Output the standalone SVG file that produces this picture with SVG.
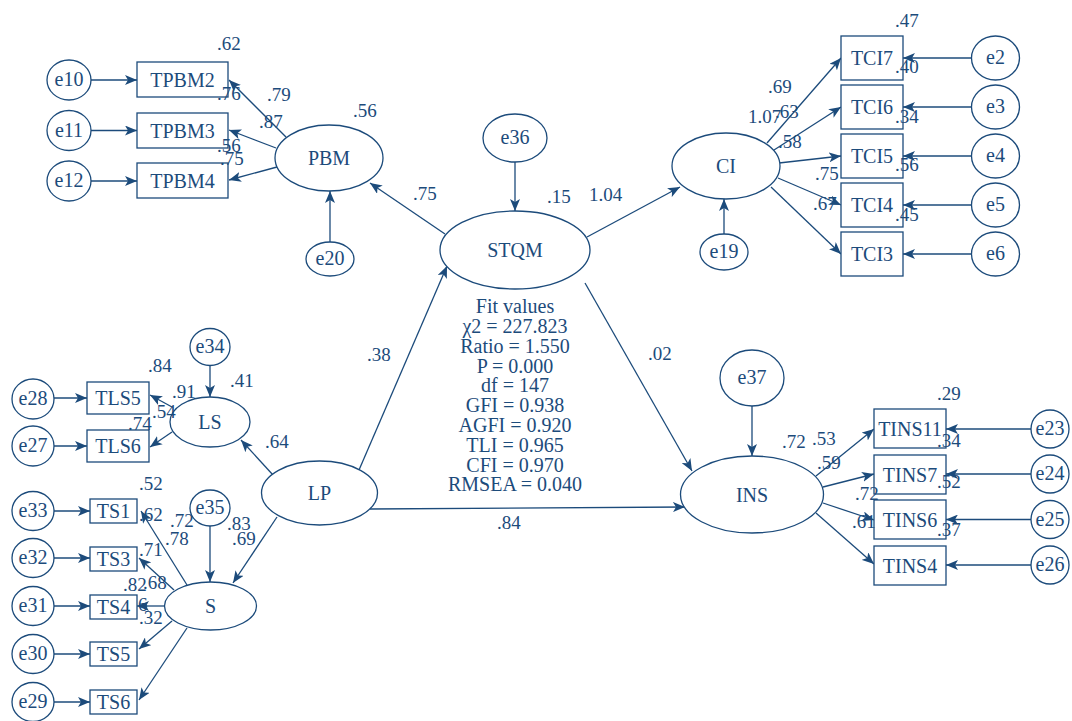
<svg xmlns="http://www.w3.org/2000/svg" width="1072" height="721" viewBox="0 0 1072 721">
<style>
.n{fill:#fff;stroke:#1c4b7b;stroke-width:1.3}
.c{stroke:#1c4b7b;stroke-width:1.3;fill:none;marker-end:url(#ah)}
text{font-family:"Liberation Serif","Times New Roman",serif;font-size:19px;fill:#1c4b7b}
.m{text-anchor:middle;font-size:20px}
</style>
<defs>
<marker id="ah" markerUnits="userSpaceOnUse" markerWidth="12" markerHeight="10" refX="12" refY="5" orient="auto">
<path d="M0,0 L12,5 L0,10 L3,5 Z" fill="#1c4b7b"/>
</marker>
</defs>
<rect width="1072" height="721" fill="#fff"/>
<g id="connectors">
<line class="c" x1="91" y1="80" x2="137" y2="80"/>
<line class="c" x1="91" y1="130.5" x2="137" y2="130.5"/>
<line class="c" x1="91" y1="181" x2="137" y2="181"/>
<line class="c" x1="286" y1="137" x2="229" y2="80"/>
<line class="c" x1="276" y1="148" x2="229" y2="130"/>
<line class="c" x1="277" y1="167" x2="229" y2="180"/>
<line class="c" x1="330" y1="242" x2="330" y2="191"/>
<line class="c" x1="445" y1="234" x2="370" y2="183"/>
<line class="c" x1="515" y1="162" x2="515" y2="211"/>
<line class="c" x1="587" y1="237" x2="680" y2="187"/>
<line class="c" x1="724" y1="234" x2="724" y2="199"/>
<line class="c" x1="767" y1="143" x2="841" y2="58"/>
<line class="c" x1="774" y1="150" x2="841" y2="107"/>
<line class="c" x1="779" y1="163" x2="841" y2="156"/>
<line class="c" x1="778" y1="178" x2="841" y2="205"/>
<line class="c" x1="771" y1="187" x2="841" y2="254"/>
<line class="c" x1="971.5" y1="58" x2="903" y2="58"/>
<line class="c" x1="971.5" y1="107" x2="903" y2="107"/>
<line class="c" x1="971.5" y1="156" x2="903" y2="156"/>
<line class="c" x1="971.5" y1="205" x2="903" y2="205"/>
<line class="c" x1="971.5" y1="254" x2="903" y2="254"/>
<line class="c" x1="359" y1="470" x2="447" y2="266"/>
<line class="c" x1="585" y1="283" x2="692" y2="471"/>
<line class="c" x1="370" y1="509" x2="685" y2="507"/>
<line class="c" x1="752" y1="406" x2="752" y2="456"/>
<line class="c" x1="816" y1="476" x2="874" y2="429"/>
<line class="c" x1="823" y1="487" x2="874" y2="474"/>
<line class="c" x1="823" y1="503" x2="874" y2="520"/>
<line class="c" x1="816" y1="513" x2="874" y2="564"/>
<line class="c" x1="1031" y1="429" x2="946" y2="429"/>
<line class="c" x1="1031" y1="474" x2="946" y2="474"/>
<line class="c" x1="1031" y1="519.5" x2="946" y2="519.5"/>
<line class="c" x1="1031" y1="565" x2="946" y2="565"/>
<line class="c" x1="210" y1="365.5" x2="210" y2="397"/>
<line class="c" x1="172" y1="407" x2="150" y2="395"/>
<line class="c" x1="172" y1="432" x2="150" y2="447"/>
<line class="c" x1="54" y1="398" x2="87" y2="398"/>
<line class="c" x1="54" y1="446" x2="87" y2="446"/>
<line class="c" x1="273" y1="475" x2="241" y2="440"/>
<line class="c" x1="277" y1="517" x2="233" y2="583"/>
<line class="c" x1="210" y1="526" x2="210" y2="582"/>
<line class="c" x1="187" y1="585" x2="141" y2="511"/>
<line class="c" x1="174" y1="590" x2="139" y2="558"/>
<line class="c" x1="164.5" y1="606" x2="137" y2="606"/>
<line class="c" x1="172" y1="621" x2="139" y2="649"/>
<line class="c" x1="187" y1="628" x2="139" y2="700"/>
<line class="c" x1="54" y1="511" x2="90" y2="511"/>
<line class="c" x1="54" y1="558" x2="90" y2="558"/>
<line class="c" x1="54" y1="606" x2="90" y2="606"/>
<line class="c" x1="54" y1="654" x2="90" y2="654"/>
<line class="c" x1="54" y1="702" x2="90" y2="702"/>
</g>
<g id="e10"><ellipse class="n" cx="69" cy="80" rx="22" ry="20"/><text class="m" x="69" y="86">e10</text></g>
<g id="e11"><ellipse class="n" cx="69" cy="130.5" rx="22" ry="20"/><text class="m" x="69" y="136.5">e11</text></g>
<g id="e12"><ellipse class="n" cx="69" cy="181" rx="22" ry="20"/><text class="m" x="69" y="187">e12</text></g>
<g id="TPBM2"><rect class="n" x="137" y="62" width="91" height="35"/><text class="m" x="182.5" y="86.5">TPBM2</text></g>
<g id="TPBM3"><rect class="n" x="137" y="113" width="91" height="35"/><text class="m" x="182.5" y="137.5">TPBM3</text></g>
<g id="TPBM4"><rect class="n" x="137" y="163" width="91" height="35"/><text class="m" x="182.5" y="187.5">TPBM4</text></g>
<g id="PBM"><ellipse class="n" cx="329" cy="158" rx="54" ry="33"/><text class="m" x="329" y="165">PBM</text></g>
<g id="e20"><ellipse class="n" cx="330" cy="259" rx="24" ry="17"/><text class="m" x="330" y="265">e20</text></g>
<g id="e36"><ellipse class="n" cx="515" cy="138" rx="32" ry="24"/><text class="m" x="515" y="144">e36</text></g>
<g id="STQM"><ellipse class="n" cx="515" cy="250" rx="75" ry="39"/><text class="m" x="515" y="257">STQM</text></g>
<g id="CI"><ellipse class="n" cx="726" cy="166" rx="54" ry="33"/><text class="m" x="726" y="173">CI</text></g>
<g id="e19"><ellipse class="n" cx="724" cy="252" rx="24" ry="18"/><text class="m" x="724" y="258">e19</text></g>
<g id="TCI7"><rect class="n" x="841" y="36" width="62" height="44"/><text class="m" x="872" y="64.5">TCI7</text></g>
<g id="TCI6"><rect class="n" x="841" y="85" width="62" height="44"/><text class="m" x="872" y="113.5">TCI6</text></g>
<g id="TCI5"><rect class="n" x="841" y="134" width="62" height="44"/><text class="m" x="872" y="162.5">TCI5</text></g>
<g id="TCI4"><rect class="n" x="841" y="183" width="62" height="44"/><text class="m" x="872" y="211.5">TCI4</text></g>
<g id="TCI3"><rect class="n" x="841" y="232" width="62" height="44"/><text class="m" x="872" y="260.5">TCI3</text></g>
<g id="e2"><ellipse class="n" cx="995.5" cy="58" rx="24" ry="22"/><text class="m" x="995.5" y="64">e2</text></g>
<g id="e3"><ellipse class="n" cx="995.5" cy="107" rx="24" ry="22"/><text class="m" x="995.5" y="113">e3</text></g>
<g id="e4"><ellipse class="n" cx="995.5" cy="156" rx="24" ry="22"/><text class="m" x="995.5" y="162">e4</text></g>
<g id="e5"><ellipse class="n" cx="995.5" cy="205" rx="24" ry="22"/><text class="m" x="995.5" y="211">e5</text></g>
<g id="e6"><ellipse class="n" cx="995.5" cy="254" rx="24" ry="22"/><text class="m" x="995.5" y="260">e6</text></g>
<g id="e34"><ellipse class="n" cx="210" cy="347" rx="20" ry="18.5"/><text class="m" x="210" y="353">e34</text></g>
<g id="LS"><ellipse class="n" cx="210" cy="422" rx="40" ry="25"/><text class="m" x="210" y="429">LS</text></g>
<g id="TLS5"><rect class="n" x="87" y="382" width="62" height="32"/><text class="m" x="118" y="405">TLS5</text></g>
<g id="TLS6"><rect class="n" x="87" y="430" width="62" height="32"/><text class="m" x="118" y="453">TLS6</text></g>
<g id="e28"><ellipse class="n" cx="33" cy="399" rx="21" ry="20"/><text class="m" x="33" y="405">e28</text></g>
<g id="e27"><ellipse class="n" cx="33" cy="446" rx="21" ry="20"/><text class="m" x="33" y="452">e27</text></g>
<g id="LP"><ellipse class="n" cx="319.5" cy="493" rx="58" ry="32"/><text class="m" x="319.5" y="500">LP</text></g>
<g id="e35"><ellipse class="n" cx="210" cy="508" rx="20" ry="18"/><text class="m" x="210" y="514">e35</text></g>
<g id="S"><ellipse class="n" cx="210.5" cy="606" rx="46" ry="24"/><text class="m" x="210.5" y="613">S</text></g>
<g id="TS1"><rect class="n" x="90" y="499" width="47" height="24"/><text class="m" x="113.5" y="517.5">TS1</text></g>
<g id="TS3"><rect class="n" x="90" y="547" width="47" height="24"/><text class="m" x="113.5" y="565.5">TS3</text></g>
<g id="TS4"><rect class="n" x="90" y="595" width="47" height="24"/><text class="m" x="113.5" y="613.5">TS4</text></g>
<g id="TS5"><rect class="n" x="90" y="642" width="47" height="24"/><text class="m" x="113.5" y="660.5">TS5</text></g>
<g id="TS6"><rect class="n" x="90" y="690" width="47" height="24"/><text class="m" x="113.5" y="708.5">TS6</text></g>
<g id="e33"><ellipse class="n" cx="33" cy="511" rx="21" ry="19.5"/><text class="m" x="33" y="517">e33</text></g>
<g id="e32"><ellipse class="n" cx="33" cy="558" rx="21" ry="19.5"/><text class="m" x="33" y="564">e32</text></g>
<g id="e31"><ellipse class="n" cx="33" cy="606" rx="21" ry="19.5"/><text class="m" x="33" y="612">e31</text></g>
<g id="e30"><ellipse class="n" cx="33" cy="654" rx="21" ry="19.5"/><text class="m" x="33" y="660">e30</text></g>
<g id="e29"><ellipse class="n" cx="33" cy="702" rx="21" ry="19.5"/><text class="m" x="33" y="708">e29</text></g>
<g id="e37"><ellipse class="n" cx="752" cy="378" rx="32" ry="28"/><text class="m" x="752" y="384">e37</text></g>
<g id="INS"><ellipse class="n" cx="752" cy="494.5" rx="71.5" ry="38.5"/><text class="m" x="752" y="501.5">INS</text></g>
<g id="TINS11"><rect class="n" x="874" y="409" width="72" height="39"/><text class="m" x="910" y="435.5">TINS11</text></g>
<g id="TINS7"><rect class="n" x="874" y="455" width="72" height="39"/><text class="m" x="910" y="481.5">TINS7</text></g>
<g id="TINS6"><rect class="n" x="874" y="500" width="72" height="39"/><text class="m" x="910" y="526.5">TINS6</text></g>
<g id="TINS4"><rect class="n" x="874" y="546" width="72" height="39"/><text class="m" x="910" y="572.5">TINS4</text></g>
<g id="e23"><ellipse class="n" cx="1050" cy="429" rx="19" ry="19"/><text class="m" x="1050" y="435">e23</text></g>
<g id="e24"><ellipse class="n" cx="1050" cy="474" rx="19" ry="19"/><text class="m" x="1050" y="480">e24</text></g>
<g id="e25"><ellipse class="n" cx="1050" cy="519.5" rx="19" ry="19"/><text class="m" x="1050" y="525.5">e25</text></g>
<g id="e26"><ellipse class="n" cx="1050" cy="565" rx="19" ry="19"/><text class="m" x="1050" y="571">e26</text></g>
<g id="labels">
<text x="217" y="50">.62</text><text x="267" y="101">.79</text><text x="217" y="100">.76</text><text x="259" y="128">.87</text>
<text x="217" y="152">.56</text><text x="220" y="165">.75</text><text x="353" y="117">.56</text>
<text x="413" y="200">.75</text><text x="547" y="203">.15</text><text x="589" y="201">1.04</text>
<text x="895" y="27">.47</text><text x="895" y="73">.40</text><text x="895" y="123">.34</text><text x="895" y="171">.56</text><text x="895" y="221">.45</text>
<text x="768" y="93">.69</text><text x="748" y="123">1.07</text><text x="775" y="118">.63</text><text x="778" y="148">.58</text><text x="815" y="180">.75</text><text x="813" y="210">.67</text>
<text x="367" y="361">.38</text><text x="648" y="360">.02</text><text x="265" y="448">.64</text><text x="497" y="529">.84</text>
<text x="937" y="400">.29</text><text x="937" y="447">.34</text><text x="937" y="488">.52</text><text x="937" y="536">.37</text>
<text x="782" y="448">.72</text><text x="812" y="445">.53</text><text x="817" y="469">.59</text><text x="855" y="500">.72</text><text x="852" y="528">.61</text>
<text x="148" y="372">.84</text><text x="230" y="387">.41</text><text x="172" y="398">.91</text><text x="152" y="418">.54</text><text x="128" y="430">.74</text>
<text x="139" y="490">.52</text><text x="139" y="521">.62</text><text x="170" y="527">.72</text><text x="165" y="545">.78</text>
<text x="227" y="530">.83</text><text x="232" y="545">.69</text><text x="139" y="556">.71</text><text x="123" y="591">.82</text>
<text x="143" y="589">.68</text><text x="138" y="611">6</text><text x="139" y="624">.32</text>
</g>
<g id="fit-values">
<text class="m" x="515" y="313">Fit values</text>
<text class="m" x="515" y="333">χ2 = 227.823</text>
<text class="m" x="515" y="352.5">Ratio = 1.550</text>
<text class="m" x="515" y="372.5">P = 0.000</text>
<text class="m" x="515" y="392">df = 147</text>
<text class="m" x="515" y="412">GFI = 0.938</text>
<text class="m" x="515" y="432">AGFI = 0.920</text>
<text class="m" x="515" y="451.5">TLI = 0.965</text>
<text class="m" x="515" y="471.5">CFI = 0.970</text>
<text class="m" x="515" y="491">RMSEA = 0.040</text>
</g>
</svg>
